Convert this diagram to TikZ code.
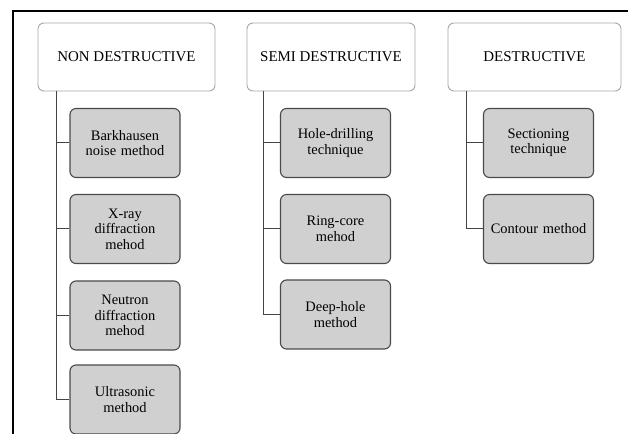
\documentclass[tikz,border=0pt]{standalone}
\usepackage{fontspec}
\setmainfont{Liberation Serif}
\definecolor{boxgray}{HTML}{D0D0D0}
\definecolor{boxline}{HTML}{4A4A4A}
\definecolor{headline}{HTML}{A8A8A8}
\definecolor{connline}{HTML}{444444}
\begin{document}
\begin{tikzpicture}[x=1bp,y=-1bp,
  head/.style={draw=headline,line width=0.9bp,fill=white,rounded corners=6bp,
    minimum width=#1,minimum height=68bp,inner sep=0pt,
    font=\fontsize{15}{16}\selectfont},
  child/.style={draw=boxline,line width=1.1bp,fill=boxgray,rounded corners=6bp,
    minimum width=110bp,minimum height=69bp,inner sep=2pt,text width=104bp,align=center,
    font=\fontsize{14.5}{15.5}\selectfont},
  conn/.style={draw=connline,line width=1bp},
  frame/.style={draw=black,line width=2bp}]
\useasboundingbox (0,0) rectangle (628,434);
\draw[frame] (13,434) -- (13,11) -- (628,11);

% headers
\node[head=177bp] (nd) at (126.5,57) {NON DESTRUCTIVE};
\node[head=168bp] (sd) at (331,57) {SEMI DESTRUCTIVE};
\node[head=173bp] (de) at (534.5,57) {DESTRUCTIVE};

% non destructive children
\node[child] (n1) at (125,143) {Barkhausen\\noise method};
\node[child] (n2) at (125,229) {X-ray\\diffraction\\mehod};
\node[child] (n3) at (125,315.5) {Neutron\\diffraction\\mehod};
\node[child] (n4) at (125,399.5) {Ultrasonic\\method};

% semi destructive children
\node[child] (s1) at (335.5,143) {Hole-drilling\\technique};
\node[child] (s2) at (335.5,229) {Ring-core\\mehod};
\node[child] (s3) at (335.5,314.5) {Deep-hole\\method};

% destructive children
\node[child] (d1) at (538.5,143) {Sectioning\\technique};
\node[child] (d2) at (538.5,229) {Contour method};

% connectors
\foreach \c in {n1,n2,n3,n4} \draw[conn] (nd.south west) ++(19bp,0) |- (\c.west);
\foreach \c in {s1,s2,s3} \draw[conn] (sd.south west) ++(17bp,0) |- (\c.west);
\foreach \c in {d1,d2} \draw[conn] (de.south west) ++(19bp,0) |- (\c.west);
\end{tikzpicture}
\end{document}
